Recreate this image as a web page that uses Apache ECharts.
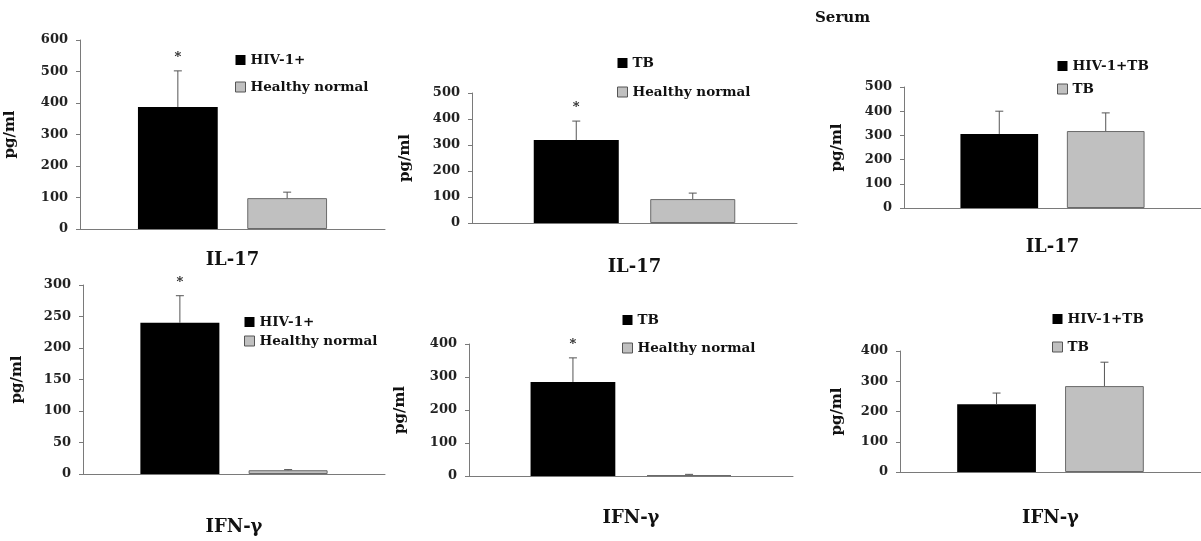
<!DOCTYPE html>
<html><head><meta charset="utf-8">
<script src="https://cdn.jsdelivr.net/npm/echarts@6/dist/echarts.min.js"></script>
<style>html,body{margin:0;padding:0;background:#fff}#c{width:1201px;height:541px}</style>
</head><body><div id="c"></div>
<script>
// ---- data ----
const categories = ['IL-17', 'IL-17', 'IL-17', 'IFN-γ', 'IFN-γ', 'IFN-γ'];
const blackNames = ['HIV-1+', 'TB', 'HIV-1+TB', 'HIV-1+', 'TB', 'HIV-1+TB'];
const grayNames = ['Healthy normal', 'Healthy normal', 'TB', 'Healthy normal', 'Healthy normal', 'TB'];
const blackValues = [387, 319, 306, 240, 285, 224];
const blackErrors = [115, 73, 94, 43, 73, 37];
const grayValues = [98, 92, 318, 6, 3, 284];
const grayErrors = [19, 23, 75, 1, 2, 79];
const blackSignificant = [1, 1, 0, 1, 1, 0];
const yMax = [600, 500, 500, 300, 400, 400];
const yStep = [100, 100, 100, 50, 100, 100];
const yName = 'pg/ml';
const titleText = 'Serum';

// ---- layout ----
const layout = [
  {grid: {left: 80, top: 40, width: 305, height: 189}, lg: {left: 235, top: 53, gap: 13}, lm: 22, ng: 62},
  {grid: {left: 472, top: 93, width: 325, height: 130}, lg: {left: 617, top: 56, gap: 15}, lm: 35, ng: 59},
  {grid: {left: 904, top: 87, width: 297, height: 121}, lg: {left: 1057, top: 59, gap: 9}, lm: 30, ng: 59},
  {grid: {left: 83, top: 285, width: 302, height: 189}, lg: {left: 244, top: 315, gap: 5}, lm: 44, ng: 58},
  {grid: {left: 469, top: 344, width: 324, height: 132}, lg: {left: 622, top: 313, gap: 14}, lm: 33, ng: 61},
  {grid: {left: 900, top: 351, width: 301, height: 121}, lg: {left: 1052, top: 312, gap: 14}, lm: 37, ng: 55}
];

const SERIF_W = 'DejaVu Serif';
const AXIS_C = '#7a7a7a';
const GRAY = '#c0c0c0';
const CAT_GAP = 0.38, BAR_GAP = 0.37;

const grids = [], xAxes = [], yAxes = [], legends = [], series = [];

layout.forEach((L, i) => {
  grids.push(Object.assign({containLabel: false}, L.grid));
  xAxes.push({
    type: 'category', gridIndex: i, data: [categories[i]],
    axisLine: {lineStyle: {color: AXIS_C, width: 1}},
    axisTick: {show: false},
    axisLabel: {margin: L.lm, fontFamily: SERIF_W, fontWeight: 'bold', fontSize: 18, color: '#111'}
  });
  yAxes.push({
    type: 'value', gridIndex: i, min: 0, max: yMax[i], interval: yStep[i],
    name: yName, nameLocation: 'middle', nameGap: L.ng, nameRotate: 90,
    nameTextStyle: {fontFamily: SERIF_W, fontWeight: 'bold', fontSize: 15, color: '#111'},
    axisLine: {show: true, lineStyle: {color: AXIS_C, width: 1}},
    axisTick: {show: true, length: 4, lineStyle: {color: AXIS_C}},
    splitLine: {show: false},
    axisLabel: {margin: 12, fontFamily: SERIF_W, fontWeight: 'bold', fontSize: 13, color: '#222'}
  });
  legends.push({
    orient: 'vertical', left: L.lg.left, top: L.lg.top, itemGap: L.lg.gap, padding: 0,
    itemWidth: 10, itemHeight: 10, icon: 'rect', selectedMode: false,
    textStyle: {fontFamily: SERIF_W, fontWeight: 'bold', fontSize: 13.5, lineHeight: 14, color: '#111'},
    data: [
      {name: blackNames[i], itemStyle: {color: '#000', borderWidth: 0}},
      {name: grayNames[i], itemStyle: {color: GRAY, borderColor: '#555', borderWidth: 1}}
    ]
  });
  series.push({
    type: 'bar', name: blackNames[i], xAxisIndex: i, yAxisIndex: i,
    data: [blackValues[i]], itemStyle: {color: '#000'},
    barGap: (BAR_GAP * 100) + '%', barCategoryGap: (CAT_GAP * 100) + '%'
  });
  series.push({
    type: 'bar', name: grayNames[i], xAxisIndex: i, yAxisIndex: i,
    data: [grayValues[i]], itemStyle: {color: GRAY, borderColor: '#6a6a6a', borderWidth: 1},
    barGap: (BAR_GAP * 100) + '%', barCategoryGap: (CAT_GAP * 100) + '%'
  });
  series.push({
    type: 'custom', xAxisIndex: i, yAxisIndex: i, z: 5,
    encode: {x: 0, y: 1},
    data: [
      [0, blackValues[i], blackErrors[i], blackSignificant[i], 0],
      [0, grayValues[i], grayErrors[i], 0, 1]
    ],
    renderItem: function (params, api) {
      const v = api.value(1), e = api.value(2), sig = api.value(3), slot = api.value(4);
      const base = api.coord([0, v]);
      const topP = api.coord([0, v + e]);
      const band = api.size([1, 0])[0];
      const bw = band * (1 - CAT_GAP) / (2 + BAR_GAP);
      const x = base[0] + (slot === 0 ? -1 : 1) * bw * (1 + BAR_GAP) / 2;
      const children = [
        {type: 'line', shape: {x1: x, y1: base[1], x2: x, y2: topP[1]}, style: {stroke: '#555', lineWidth: 1}},
        {type: 'line', shape: {x1: x - 4, y1: topP[1], x2: x + 4, y2: topP[1]}, style: {stroke: '#555', lineWidth: 1}}
      ];
      if (sig) {
        children.push({type: 'text', style: {text: '*', x: x, y: topP[1] - 13, fill: '#222',
          font: 'bold 13px "DejaVu Serif"', align: 'center', verticalAlign: 'middle'}});
      }
      return {type: 'group', children: children};
    }
  });
});

const chart = echarts.init(document.getElementById('c'), null, {renderer: 'canvas'});
chart.setOption({
  animation: false,
  backgroundColor: '#fff',
  title: {text: titleText, left: 815, top: 11, padding: 0,
    textStyle: {fontFamily: SERIF_W, fontWeight: 'bold', fontSize: 15, color: '#111'}},
  grid: grids, xAxis: xAxes, yAxis: yAxes, legend: legends, series: series
});
</script>
</body></html>
